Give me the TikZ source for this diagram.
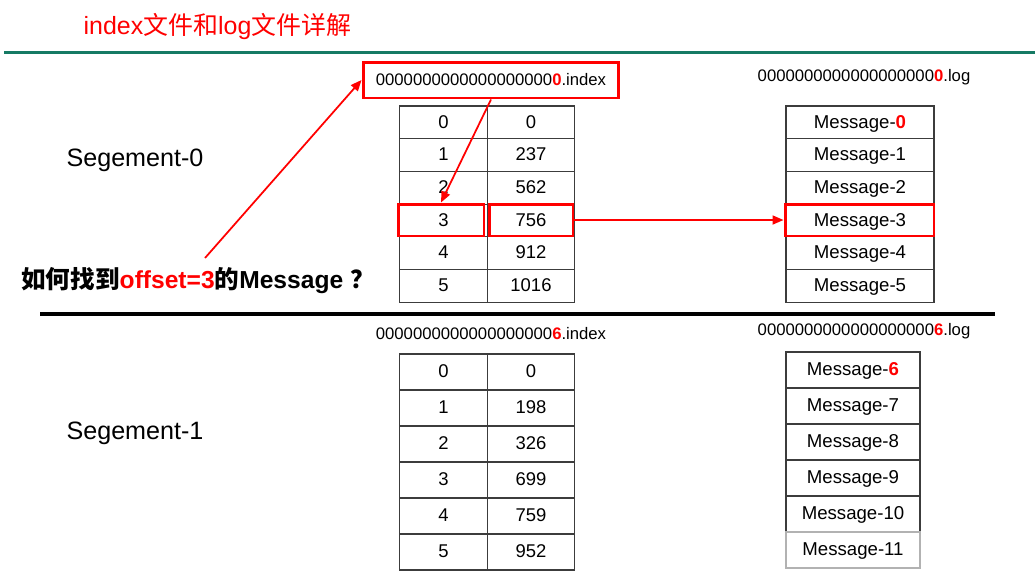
\documentclass[tikz,border=0pt]{standalone}
\usepackage{fontspec}
\setmainfont{Liberation Sans}
\newfontfamily\cjk{Noto Sans CJK SC}
\usetikzlibrary{arrows.meta, positioning}
\definecolor{barcolor}{RGB}{22, 122, 100}
\definecolor{gridcolor}{RGB}{60, 60, 60}

\begin{document}
\begin{tikzpicture}[
    x=0.02cm, y=-0.02cm,
    idx/.style={draw=gridcolor, line width=0.6pt, minimum width=1.75cm, inner sep=0pt, text depth=0.15ex, font=\fontsize{10.5}{12}\selectfont},
    msg/.style={draw=gridcolor, line width=0.6pt, inner sep=0pt, text depth=0.15ex, font=\fontsize{10.6}{12}\selectfont},
    hilite/.style={draw=red, line width=1.7pt, inner sep=0pt},
    fname/.style={font=\fontsize{9.5}{11}\selectfont},
    seglabel/.style={font=\fontsize{14.3}{16}\selectfont},
    link/.style={red, line width=1pt, -{Triangle[length=2.2mm, width=1.8mm]}}
]
    \useasboundingbox (0,0) rectangle (1035,586);

    % Title and rules
    \node[text=red, font=\fontsize{14.2}{16}\selectfont] (title) at (217.5,27) {index{\cjk 文件和}log{\cjk 文件详解}};
    \draw[barcolor, line width=0.06cm] (4,52) -- (1035,52);
    \draw[line width=0.08cm] (40,314) -- (995,314);

    % Segment 0
    \node[seglabel] (seg0) at (135,160) {Segement-0};
    \node[fname, draw=red, line width=1.7pt, minimum width=5.12cm, minimum height=0.72cm] (ibox0) at (491,80) {0000000000000000000\textbf{\color{red}0}.index};
    \node[fname] (lname0) at (864,77) {0000000000000000000\textbf{\color{red}0}.log};
    \foreach \k/\off in {0/0, 1/237, 2/562, 3/756, 4/912, 5/1016} {
        \node[idx, minimum height=0.654cm] (a0-\k) at (443.5, {122.35+32.7*\k}) {\k};
        \node[idx, minimum height=0.654cm] (b0-\k) at (531, {122.35+32.7*\k}) {\off};
    }
    \node[msg, minimum width=2.96cm, minimum height=0.654cm] (m0-0) at (860, 122.35) {Message-\textbf{\color{red}0}};
    \foreach \k in {1,...,5} {
        \node[msg, minimum width=2.96cm, minimum height=0.654cm] (m0-\k) at (860, {122.35+32.7*\k}) {Message-\k};
    }

    % Selected entry
    \node[hilite, minimum width=1.72cm, minimum height=0.64cm] (sel-a) at (441,220) {};
    \node[hilite, minimum width=1.68cm, minimum height=0.64cm] (sel-b) at (531,220) {};
    \node[hilite, minimum width=2.98cm, minimum height=0.64cm] (sel-log) at (859.5,220) {};

    % Question
    \node[font=\fontsize{14}{16}\selectfont\bfseries] (question) at (198,281) {{\cjk 如何找到}{\color{red}offset=3}{\cjk 的}Message\ {\cjk ？}};
    \coordinate (qtip) at (205,258);

    % Lookup arrows
    \draw[link] (qtip) -- (ibox0.west);
    \draw[link] (ibox0.south) -- (sel-a.north);
    \draw[link] (sel-b.east) -- (sel-log.west);

    % Segment 1
    \node[seglabel] (seg1) at (135,433) {Segement-1};
    \node[fname] (iname1) at (491,334) {0000000000000000000\textbf{\color{red}6}.index};
    \node[fname] (lname1) at (864,331) {0000000000000000000\textbf{\color{red}6}.log};
    \foreach \k/\off in {0/0, 1/198, 2/326, 3/699, 4/759, 5/952} {
        \node[idx, minimum height=0.72cm] (a1-\k) at (443.5, {372+36*\k}) {\k};
        \node[idx, minimum height=0.72cm] (b1-\k) at (531, {372+36*\k}) {\off};
    }
    \node[msg, minimum width=2.68cm, minimum height=0.72cm] (m1-6) at (853, 370) {Message-\textbf{\color{red}6}};
    \foreach \k in {7,...,10} {
        \node[msg, minimum width=2.68cm, minimum height=0.72cm] (m1-\k) at (853, {370+36*(\k-6)}) {Message-\k};
    }
    \node[msg, draw=black!30, minimum width=2.68cm, minimum height=0.72cm] (m1-11) at (853, 550) {Message-11};

\end{tikzpicture}
\end{document}
